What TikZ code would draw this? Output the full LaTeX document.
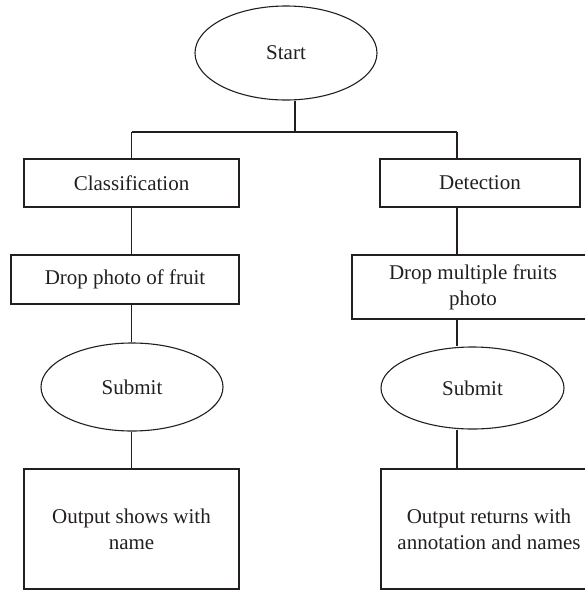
\documentclass[tikz,border=0pt]{standalone}
\usepackage{fontspec}
\setmainfont{Liberation Serif}
\usetikzlibrary{shapes.geometric}
\definecolor{ink}{HTML}{231F20}
\begin{document}
\begin{tikzpicture}[x=1pt,y=-1pt,
  every node/.style={font=\fontsize{21}{26}\selectfont, text=ink},
  box/.style={draw=ink, line width=1.1pt, rectangle, inner sep=0pt, align=center},
  oval/.style={draw=ink, line width=1.1pt, ellipse, inner sep=0pt, align=center},
  link/.style={draw=ink, line width=1.1pt}]
\useasboundingbox (0,0) rectangle (585,590);
% nodes
\node[oval, minimum width=182pt, minimum height=94pt] (start) at (286,53) {Start};
\node[box, minimum width=215pt, minimum height=48pt] (cls) at (131.5,183) {Classification};
\node[box, minimum width=200pt, minimum height=48pt] (det) at (480,183) {Detection};
\node[box, minimum width=228pt, minimum height=49pt] (dpf) at (125,279.5) {Drop photo of fruit};
\node[box, minimum width=242pt, minimum height=64pt] (dmf) at (473,287) {Drop multiple fruits\\photo};
\node[oval, minimum width=182pt, minimum height=88pt] (subL) at (132,387) {Submit};
\node[oval, minimum width=183pt, minimum height=82pt] (subR) at (472.5,388) {Submit};
\node[box, minimum width=215pt, minimum height=120pt] (outL) at (131.5,529) {Output shows with\\name};
\node[box, minimum width=216pt, minimum height=120pt] (outR) at (489,529) {Output returns with\\annotation and names};
% bus coordinates
\coordinate (busL) at (131.7,132);
\coordinate (busR) at (457,132);
\coordinate (busM) at (295,132);
% connectors
\draw[link] (start.south -| busM) -- (busM);
\draw[link] (busL) -- (busR);
\draw[link] (busL) -- (cls.north -| busL);
\draw[link] (busR) -- (det.north -| busR);
\draw[link] (cls.south -| busL) -- (dpf.north -| busL);
\draw[link] (dpf.south -| busL) -- (subL.north -| busL);
\draw[link] (subL.south -| busL) -- (outL.north -| busL);
\draw[link] (det.south -| busR) -- (dmf.north -| busR);
\draw[link] (dmf.south -| busR) -- (subR.north -| busR);
\draw[link] (subR.south -| busR) -- (outR.north -| busR);
\end{tikzpicture}
\end{document}
